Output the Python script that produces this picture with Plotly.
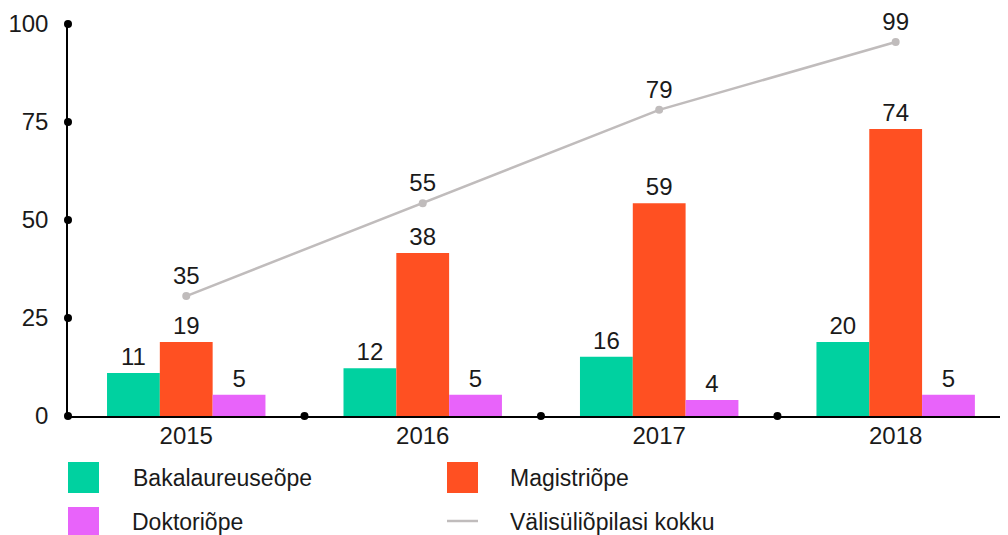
import plotly.graph_objects as go

years = ["2015", "2016", "2017", "2018"]
# bar heights as drawn in the picture, and the printed labels
bak_values = [11.0, 12.2, 15.1, 18.9]
mag_values = [18.9, 41.6, 54.3, 73.2]
dok_values = [5.4, 5.4, 4.1, 5.4]
total_values = [30.6, 54.3, 78.1, 95.4]
bak_labels = ["11", "12", "16", "20"]
mag_labels = ["19", "38", "59", "74"]
dok_labels = ["5", "5", "4", "5"]
total_labels = ["35", "55", "79", "99"]
y_ticks = [0, 25, 50, 75, 100]

names = ["Bakalaureuseõpe", "Magistriõpe", "Doktoriõpe", "Välisüliõpilasi kokku"]
GREEN = "rgb(0,209,160)"
ORANGE = "rgb(255,80,34)"
PINK = "rgb(232,99,250)"
GRAY = "rgb(192,188,188)"
TXT = "#1a1a1a"
FONT = "Liberation Sans"
FS = 24

x = list(range(len(years)))
fig = go.Figure()
for vals, labs, col, nm in [(bak_values, bak_labels, GREEN, names[0]),
                            (mag_values, mag_labels, ORANGE, names[1]),
                            (dok_values, dok_labels, PINK, names[2])]:
    fig.add_trace(go.Bar(x=x, y=vals, name=nm, marker=dict(color=col, line=dict(width=0)),
                         text=labs, textposition="outside", constraintext="none",
                         textfont=dict(size=FS, color=TXT, family=FONT), cliponaxis=False,
                         showlegend=False))

fig.add_trace(go.Scatter(x=x, y=total_values, name=names[3], mode="lines+markers+text",
                         line=dict(color=GRAY, width=2.5), marker=dict(color=GRAY, size=8),
                         text=total_labels, textposition="top center",
                         textfont=dict(size=FS, color=TXT, family=FONT),
                         cliponaxis=False, showlegend=False))

# axis dots
fig.add_trace(go.Scatter(x=[-0.5] * len(y_ticks), y=y_ticks, mode="markers",
                         marker=dict(color="black", size=8), cliponaxis=False,
                         showlegend=False, hoverinfo="skip"))
fig.add_trace(go.Scatter(x=[i + 0.5 for i in range(len(years))], y=[0] * len(years), mode="markers",
                         marker=dict(color="black", size=8), cliponaxis=False,
                         showlegend=False, hoverinfo="skip"))

shapes = []
annotations = []
# manual legend (positions given in page pixels, converted to plot-area fractions)
legend_items = [
    (68, 462, "sq", GREEN, names[0], 131, 478),
    (447, 462, "sq", ORANGE, names[1], 508, 478),
    (68, 507, "sq", PINK, names[2], 130, 522),
    (447, 521, "ln", GRAY, names[3], 508, 522),
]
for x0, y0, kind, col, nm, tx, ty in legend_items:
    if kind == "sq":
        shapes.append(dict(type="rect", xref="paper", yref="paper",
                           x0=(x0 - 68) / 940, x1=(x0 + 31 - 68) / 940,
                           y0=(416 - y0) / 392, y1=(416 - (y0 + 31)) / 392,
                           fillcolor=col, line=dict(width=0)))
    else:
        shapes.append(dict(type="line", xref="paper", yref="paper",
                           x0=(x0 - 68) / 940, x1=(x0 + 31 - 68) / 940,
                           y0=(416 - y0) / 392, y1=(416 - y0) / 392,
                           line=dict(color=col, width=2.5)))
    annotations.append(dict(xref="paper", yref="paper", x=(tx - 68) / 940, y=(416 - ty) / 392,
                            text=nm, showarrow=False, xanchor="left", yanchor="middle",
                            font=dict(size=23, color=TXT, family=FONT)))

# page body has an 8px margin, so the figure is 1000x527 placed at (8, 8)
fig.update_layout(
    width=1000, height=527,
    margin=dict(l=60, r=0, t=16, b=119),
    paper_bgcolor="white", plot_bgcolor="white",
    barmode="group", bargap=0.33, bargroupgap=0,
    font=dict(family=FONT, size=FS, color=TXT),
    shapes=shapes, annotations=annotations,
    xaxis=dict(range=[-0.5, 3.475], tickvals=x, ticktext=years, showgrid=False,
               zeroline=False, showline=True, linecolor="black", linewidth=1.5,
               ticks="", ticklabelstandoff=-3,
               tickfont=dict(size=FS, color=TXT, family=FONT), fixedrange=True),
    yaxis=dict(range=[0, 100], tickvals=y_ticks, showgrid=False, zeroline=False,
               showline=True, linecolor="black", linewidth=1.5,
               ticks="outside", ticklen=13, tickcolor="rgba(0,0,0,0)",
               tickfont=dict(size=FS, color=TXT, family=FONT), fixedrange=True),
)

fig.write_html("out.html")
